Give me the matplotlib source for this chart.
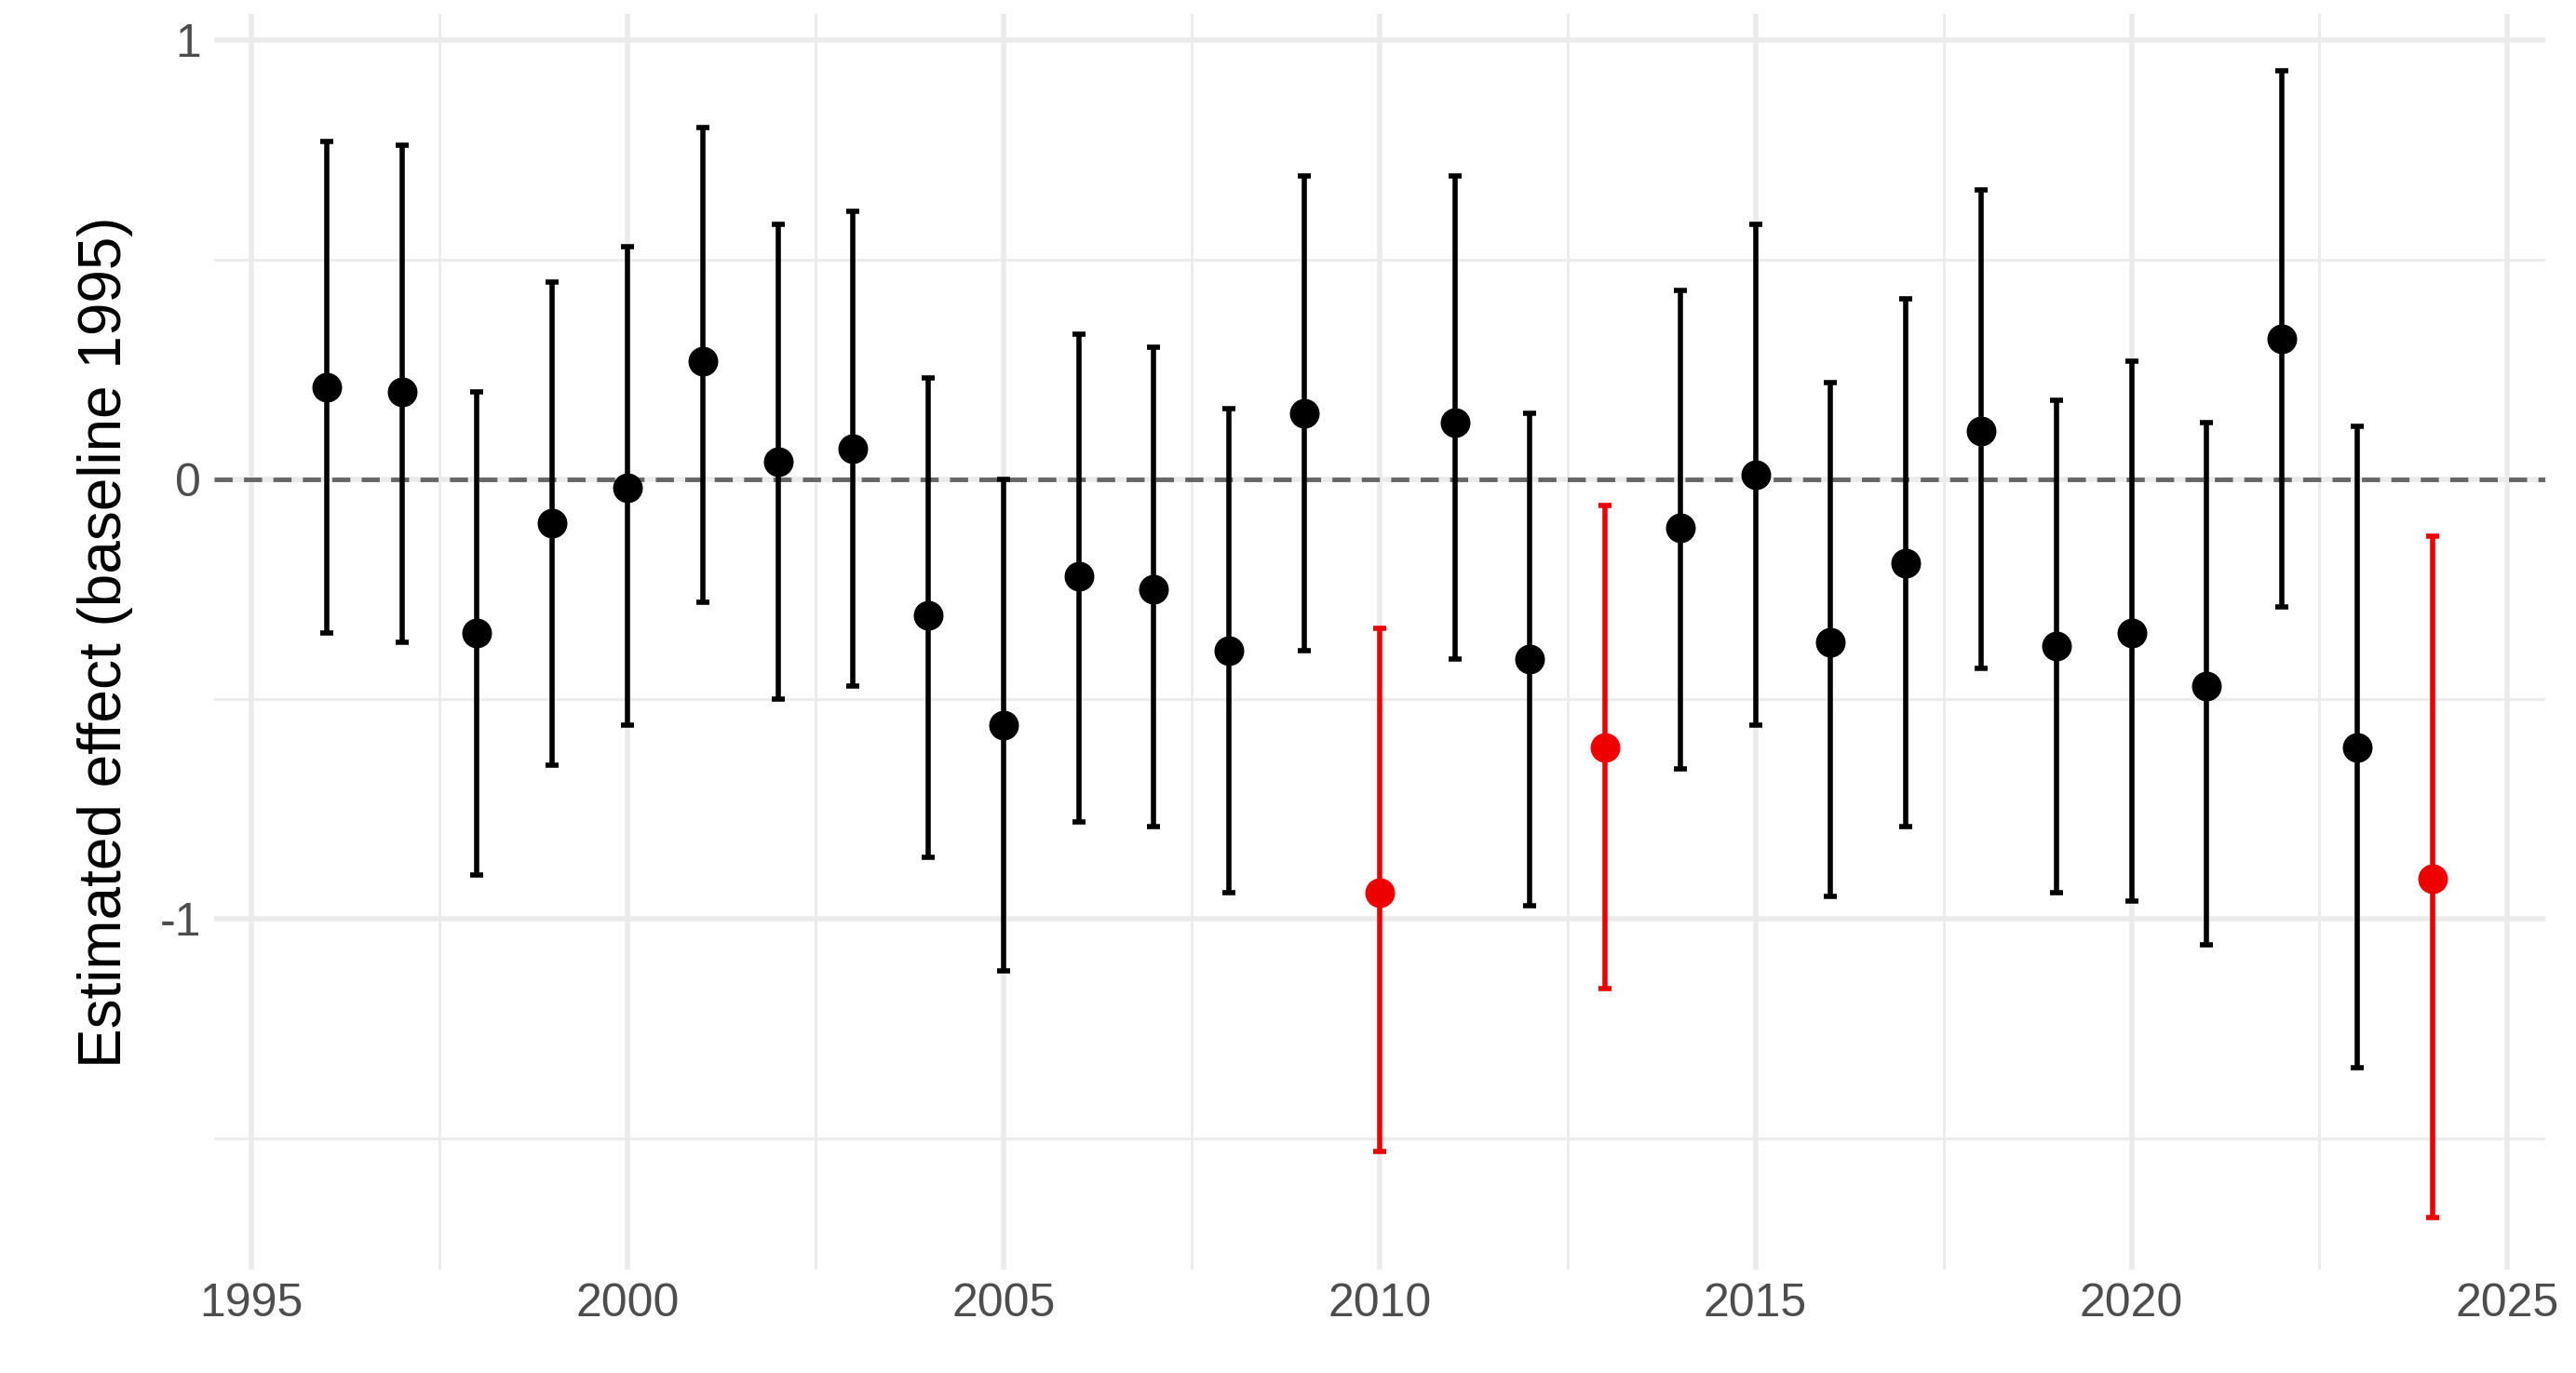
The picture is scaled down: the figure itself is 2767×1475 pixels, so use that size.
import matplotlib
matplotlib.use("Agg")
import matplotlib.pyplot as plt

plt.rcParams['font.family'] = ['Liberation Sans', 'DejaVu Sans']
plt.rcParams['axes.unicode_minus'] = False

years = list(range(1996, 2025))
est = [0.21,0.20,-0.35,-0.10,-0.02,0.27,0.04,0.07,-0.31,-0.56,-0.22,-0.25,-0.39,0.15,-0.94,
       0.13,-0.41,-0.61,-0.11,0.01,-0.37,-0.19,0.11,-0.38,-0.35,-0.47,0.32,-0.61,-0.91]
upper = [0.77,0.76,0.20,0.45,0.53,0.80,0.58,0.61,0.23,0.00,0.33,0.30,0.16,0.69,-0.34,
         0.69,0.15,-0.06,0.43,0.58,0.22,0.41,0.66,0.18,0.27,0.13,0.93,0.12,-0.13]
lower = [-0.35,-0.37,-0.90,-0.65,-0.56,-0.28,-0.50,-0.47,-0.86,-1.12,-0.78,-0.79,-0.94,-0.39,-1.53,
         -0.41,-0.97,-1.16,-0.66,-0.56,-0.95,-0.79,-0.43,-0.94,-0.96,-1.06,-0.29,-1.34,-1.68]
significant = [u < 0 for u in upper]

fig = plt.figure(figsize=(27.67, 14.75), dpi=100)
ax = fig.add_axes([0.083, 0.075, 0.905, 0.915])
for y, e, lo, hi, s in zip(years, est, lower, upper, significant):
    c = "#EE0000" if s else "black"
    ax.errorbar([y], [e], yerr=[[e - lo], [hi - e]], fmt="o", color=c, ecolor=c,
                elinewidth=4, capsize=5, capthick=4, markersize=22, zorder=3)
ax.axhline(0, color="#666666", ls=(0, (4, 2.5)), lw=3.5, zorder=2)
ax.set_xlim(1994.5, 2025.5)
ax.set_ylim(-1.8, 1.06)
ax.set_xticks([1995, 2000, 2005, 2010, 2015, 2020, 2025])
ax.set_xticks([1997.5, 2002.5, 2007.5, 2012.5, 2017.5, 2022.5], minor=True)
ax.set_yticks([-1, 0, 1])
ax.set_yticks([-1.5, -0.5, 0.5], minor=True)
ax.grid(which="major", color="#EBEBEB", lw=4)
ax.grid(which="minor", color="#EBEBEB", lw=2)
ax.set_axisbelow(True)
for sp in ax.spines.values():
    sp.set_visible(False)
ax.tick_params(which="both", length=0, labelsize=36, labelcolor="#4D4D4D", pad=10)
ax.set_ylabel("Estimated effect (baseline 1995)", fontsize=46, labelpad=20)
fig.savefig("out.png", dpi=100, facecolor="white")
